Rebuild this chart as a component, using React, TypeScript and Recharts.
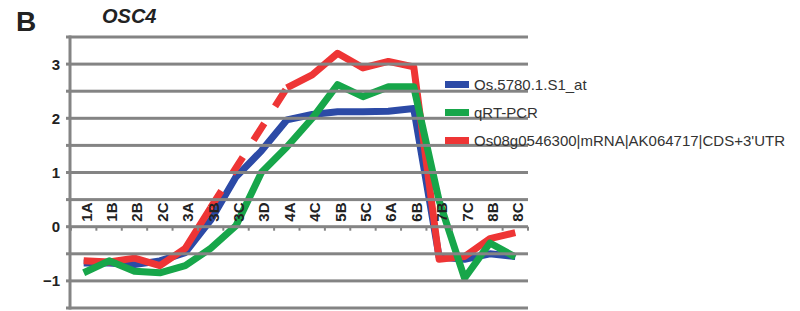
import React from 'react';
import { LineChart, Line, XAxis, YAxis } from 'recharts';

const categories = ['1A', '1B', '2B', '2C', '3A', '3B', '3C', '3D', '4A', '4C', '5B', '5C', '6A', '6B', '7B', '7C', '8B', '8C'];
const affyValues = [-0.67, -0.67, -0.7, -0.63, -0.48, 0.12, 0.92, 1.4, 1.97, 2.07, 2.12, 2.12, 2.13, 2.18, -0.56, -0.6, -0.5, -0.55];
const qpcrValues = [-0.85, -0.63, -0.82, -0.85, -0.72, -0.4, 0.02, 1.0, 1.47, 2.0, 2.62, 2.4, 2.58, 2.58, 0.48, -0.95, -0.3, -0.56];
const rnaValues: (number | null)[] = [-0.63, -0.65, -0.58, -0.72, -0.4, 0.35, null, null, 2.56, 2.8, 3.2, 2.93, 3.05, 2.95, -0.6, -0.55, -0.22, -0.11];
// the gap between 3B and 4A is bridged with a dashed segment
const rnaGapValues: (number | null)[] = [null, null, null, null, null, 0.35, null, null, 2.56, null, null, null, null, null, null, null, null, null];
const yTicks = [-1.5, -1, -0.5, 0, 0.5, 1, 1.5, 2, 2.5, 3, 3.5];

const seriesNames = ['Os.5780.1.S1_at', 'qRT-PCR', "Os08g0546300|mRNA|AK064717|CDS+3'UTR"];
const seriesColors = ['#2c4aa6', '#17a64a', '#ee3535'];

const data = categories.map((cat, i) => ({
  cat,
  affy: affyValues[i],
  qpcr: qpcrValues[i],
  rna: rnaValues[i],
  rnaGap: rnaGapValues[i],
}));

const W = 800;
const H = 311;
const PLOT_TOP = 37;
const PLOT_BOTTOM = 308;
const PLOT_LEFT = 71;
const PLOT_RIGHT = 528;
const Y_MIN = -1.5;
const Y_MAX = 3.5;
const STEP = (PLOT_RIGHT - PLOT_LEFT) / categories.length;
const ZERO_Y = PLOT_TOP + ((Y_MAX - 0) / (Y_MAX - Y_MIN)) * (PLOT_BOTTOM - PLOT_TOP);
const GRID = '#848484';
const FONT = 'Liberation Sans, Arial, sans-serif';

function CategoryTick(props: any) {
  const { x, payload, index } = props;
  const isLast = index === categories.length - 1;
  return (
    <g>
      <rect x={x - STEP / 2 - 1} y={ZERO_Y} width={2} height={4} fill={GRID} />
      {isLast && <rect x={x + STEP / 2 - 1} y={ZERO_Y} width={2} height={4} fill={GRID} />}
      <text
        x={x + 8}
        y={ZERO_Y - 5}
        transform={`rotate(-90 ${x + 8} ${ZERO_Y - 5})`}
        textAnchor="start"
        fontFamily={FONT}
        fontWeight="bold"
        fontSize={15}
        fill="#222"
      >
        {payload.value}
      </text>
    </g>
  );
}

function ValueTick(props: any) {
  const { y, payload, index } = props;
  const v = payload.value as number;
  const label = Number.isInteger(v) ? (v < 0 ? `\u2212${Math.abs(v)}` : `${v}`) : '';
  return (
    <g>
      {index === 0 && <rect x={PLOT_LEFT - 2.5} y={PLOT_TOP - 1.5} width={3} height={PLOT_BOTTOM - PLOT_TOP + 3} fill={GRID} />}
      {/* horizontal gridline across the plot and a short tick to the left */}
      <rect x={PLOT_LEFT - 5} y={y - 1.5} width={PLOT_RIGHT - PLOT_LEFT + 5} height={3} fill={GRID} />
      {label && (
        <text
          x={PLOT_LEFT - 11}
          y={y}
          dy="0.36em"
          textAnchor="end"
          fontFamily={FONT}
          fontWeight="bold"
          fontSize={15}
          fill="#222"
        >
          {label}
        </text>
      )}
    </g>
  );
}

export default function App() {
  return (
    <div style={{ position: 'absolute', left: 0, top: 0, width: W, height: H, background: '#fff', fontFamily: FONT }}>
      <div style={{ position: 'absolute', left: 16, top: 6, fontSize: 28, fontWeight: 'bold', color: '#222' }}>B</div>
      <div style={{ position: 'absolute', left: 102, top: 5, fontSize: 20, fontWeight: 'bold', fontStyle: 'italic', color: '#222' }}>
        OSC4
      </div>
      <LineChart
        width={W}
        height={H}
        data={data}
        margin={{ top: PLOT_TOP, right: W - PLOT_RIGHT, bottom: H - PLOT_BOTTOM - 1, left: 0 }}
      >
        <XAxis
          dataKey="cat"
          height={1}
          axisLine={false}
          tickLine={false}
          interval={0}
          padding={{ left: STEP / 2, right: STEP / 2 }}
          tick={<CategoryTick />}
        />
        <YAxis
          width={PLOT_LEFT}
          domain={[Y_MIN, Y_MAX]}
          ticks={yTicks}
          interval={0}
          allowDataOverflow
          axisLine={false}
          tickLine={false}
          tick={<ValueTick />}
        />
        <Line dataKey="affy" stroke={seriesColors[0]} strokeWidth={7} dot={false} isAnimationActive={false} strokeLinejoin="round" />
        <Line dataKey="rna" stroke={seriesColors[2]} strokeWidth={7} dot={false} isAnimationActive={false} strokeLinejoin="round" />
        <Line
          dataKey="rnaGap"
          stroke={seriesColors[2]}
          strokeWidth={7}
          strokeDasharray="20 20"
          connectNulls
          dot={false}
          isAnimationActive={false}
        />
        <Line dataKey="qpcr" stroke={seriesColors[1]} strokeWidth={7} dot={false} isAnimationActive={false} strokeLinejoin="round" />
      </LineChart>
      <div style={{ position: 'absolute', left: 445, top: 70 }}>
        {seriesNames.map((name, i) => (
          <div key={name} style={{ display: 'flex', alignItems: 'center', height: 28, fontSize: 15, color: '#333' }}>
            <span style={{ display: 'inline-block', width: 24, height: 7, background: seriesColors[i], marginRight: 5 }} />
            {name}
          </div>
        ))}
      </div>
    </div>
  );
}
